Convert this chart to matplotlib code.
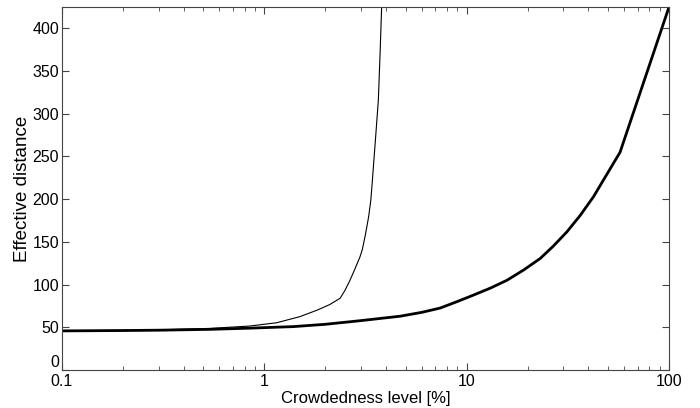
import numpy as np
import matplotlib
matplotlib.use("Agg")
import matplotlib.pyplot as plt
from matplotlib.ticker import FixedLocator, FuncFormatter, LogLocator, NullFormatter

# crowdedness level [%] vs effective distance
x_thin = [0.1, 0.2, 0.3, 0.54, 0.85, 1.15, 1.5, 1.82, 2.1, 2.37, 2.5, 2.65, 2.8,
          2.97, 3.05, 3.15, 3.21, 3.28, 3.36, 3.41, 3.46, 3.56, 3.66, 3.73, 3.80, 3.84]
y_thin = [46, 46.4, 47, 48.7, 51.5, 55.3, 62.5, 70, 76.5, 84, 93, 105, 118,
          132.5, 141, 157, 167.6, 180, 199, 218, 238, 277, 316, 368, 425, 460]

x_thick = [0.1, 0.2, 0.3, 0.54, 0.85, 1.39, 2.0, 2.97, 4.7, 6.0, 7.39, 8.93, 10.8, 13.1,
           15.8, 19.1, 23.1, 26.8, 31.3, 36.4, 42.3, 57.3, 100]
y_thick = [45.8, 46.2, 46.6, 47.6, 49, 50.8, 53.5, 57.7, 63, 67.5, 72.5, 79.9, 87.7, 95.9,
           105, 117, 130.6, 145, 161.8, 181, 202.7, 255, 425]

x_ticks = [0.1, 1, 10, 100]
y_ticks = [0, 50, 100, 150, 200, 250, 300, 350, 400]

plt.rcParams['font.family'] = ['Liberation Sans', 'DejaVu Sans']
plt.rcParams['font.size'] = 11.5

fig = plt.figure(figsize=(7, 4.08), dpi=100)
ax = fig.add_axes([62/700, 1 - 370/408, (669 - 62)/700, (370 - 7)/408])

ax.plot(x_thin, y_thin, color='black', lw=0.8)
ax.plot(x_thick, y_thick, color='black', lw=2.0)

ax.set_xscale('log')
ax.set_xlim(0.1, 100)
ax.set_ylim(0, 425)
ax.xaxis.set_major_locator(FixedLocator(x_ticks))
ax.xaxis.set_major_formatter(FuncFormatter(lambda v, p: '%g' % v))
ax.xaxis.set_minor_locator(LogLocator(base=10, subs=np.arange(2, 10)))
ax.xaxis.set_minor_formatter(NullFormatter())
ax.yaxis.set_major_locator(FixedLocator(y_ticks))

ax.tick_params(which='both', direction='in', top=True, right=True, color='#444444')
ax.tick_params(axis='x', pad=3)
ax.tick_params(axis='y', pad=2)
ax.tick_params(which='major', length=5, width=0.8)
ax.tick_params(which='minor', length=3, width=0.6)
for s in ax.spines.values():
    s.set_color('#444444')
    s.set_linewidth(0.8)

# the "0" label sits just above the corner, as in the original
fig.canvas.draw()
ax.get_yticklabels()[0].set_verticalalignment('bottom')

ax.set_xlabel('Crowdedness level [%]', fontsize=12, labelpad=1)
ax.set_ylabel('Effective distance', fontsize=13.5, labelpad=1)

fig.savefig('out.png', dpi=100)
